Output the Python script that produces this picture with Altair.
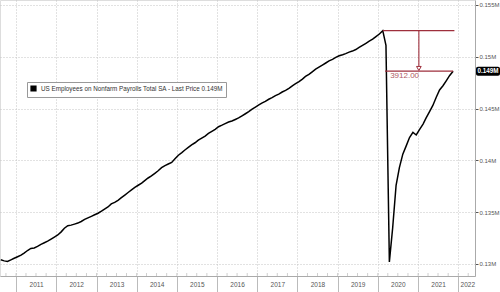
import altair as alt
import pandas as pd

# Monthly US nonfarm payrolls (thousands), Aug 2010 .. Nov 2021
v2010 = [130400, 130300, 130250, 130400, 130550]
v2011 = [130700, 130850, 131050, 131300, 131500, 131550, 131700, 131900, 132050, 132200, 132400, 132600]
v2012 = [132800, 133100, 133450, 133700, 133750, 133850, 133950, 134100, 134300, 134450, 134600, 134750]
v2013 = [134900, 135100, 135300, 135500, 135800, 135950, 136150, 136400, 136650, 136900, 137150, 137400]
v2014 = [137600, 137800, 138050, 138300, 138500, 138750, 139000, 139300, 139500, 139650, 139800, 140150]
v2015 = [140500, 140750, 141000, 141250, 141500, 141700, 141950, 142150, 142350, 142600, 142800, 143000]
v2016 = [143250, 143400, 143550, 143700, 143800, 143950, 144100, 144300, 144500, 144700, 144950, 145150]
v2017 = [145350, 145550, 145700, 145900, 146050, 146250, 146400, 146600, 146750, 146950, 147200, 147400]
v2018 = [147600, 147850, 148100, 148300, 148550, 148800, 149000, 149200, 149400, 149600, 149750, 149950]
v2019 = [150100, 150200, 150300, 150450, 150550, 150700, 150900, 151100, 151300, 151500, 151700, 151950]
v2020 = [152200, 152523, 151100, 130200, 133500, 137600, 139300, 140600, 141400, 142200, 142700, 142450]
v2021 = [143000, 143500, 144100, 144700, 145300, 146100, 146800, 147200, 147700, 148200, 148611]

values = v2010 + v2011 + v2012 + v2013 + v2014 + v2015 + v2016 + v2017 + v2018 + v2019 + v2020 + v2021
dates = pd.date_range("2010-08-01", "2021-11-01", freq="MS") + pd.Timedelta(days=14)

series_name = "US Employees on Nonfarm Payrolls Total SA - Last Price 0.149M"
y_ticks = [130000, 132500, 135000, 137500, 140000, 142500, 145000, 147500, 150000, 152500, 155000]
year_ticks = [f"{y}-01-01" for y in range(2011, 2023)]
quarter_ticks = [d.strftime("%Y-%m-%d") for d in pd.date_range("2010-10-01", "2022-04-01", freq="QS")]

df = pd.DataFrame({"date": dates, "value": values, "series": series_name})

peak_idx = values.index(max(values))
peak = values[peak_idx]
last = values[-1]
diff_text = f"{peak - last:.2f}"

W, H = 475, 276
RED = "#9e2f3c"
FONT = "Liberation Sans"

x_scale = alt.Scale(domain=["2010-08-08", "2022-06-02"])
y_scale = alt.Scale(domain=[128840, 155480], nice=False, zero=False)

x_axis = alt.Axis(
    values=year_ticks, format="%Y", tickSize=16, tickColor="#bbbbbb",
    labelOffset={"condition": {"test": "year(datum.value) == 2022", "value": 9}, "value": 20},
    labelPadding=-8, labelBaseline="middle", labelFontSize=6.5, labelColor="#555555",
    labelFont=FONT, labelFlush=False, labelOverlap=False,
    domainColor="#aaaaaa", grid=True, gridDash=[1, 2], gridColor="#c4c4c4", title=None,
)
y_axis = alt.Axis(
    orient="right", values=y_ticks,
    labelExpr="datum.value % 5000 == 0 ? format(datum.value / 1000000, '.3~f') + 'M' : ''",
    tickSize=3, tickColor="#555555", labelPadding=1, labelFontSize=6, labelColor="#555555",
    labelFont=FONT, labelFlush=False, labelOverlap=False, domainColor="#aaaaaa",
    grid=True, gridDash=[1, 2], gridColor="#c4c4c4",
    gridOpacity={"condition": {"test": "datum.value % 5000 != 0", "value": 0}, "value": 1},
    title=None,
)

line = alt.Chart(df).mark_line(strokeWidth=1.5, clip=True).encode(
    x=alt.X("date:T", scale=x_scale, axis=x_axis),
    y=alt.Y("value:Q", scale=y_scale, axis=y_axis),
    color=alt.Color(
        "series:N", scale=alt.Scale(range=["black"]),
        legend=alt.Legend(
            title=None, orient="none", legendX=27, legendY=82, symbolType="square",
            symbolFillColor="black", symbolStrokeColor="black", symbolSize=22,
            labelFontSize=6.3, labelColor="#333333", labelFont=FONT, labelLimit=400,
            strokeColor="#999999", fillColor="white", padding=3,
        ),
    ),
)

qdf = pd.DataFrame({"date": pd.to_datetime(quarter_ticks)})
qticks = alt.Chart(qdf).mark_tick(orient="vertical", size=3, thickness=0.8, color="#aaaaaa").encode(
    x=alt.X("date:T", scale=x_scale), y=alt.value(H - 1.5)
)

ann_lines = pd.DataFrame({
    "x": [dates[peak_idx], pd.Timestamp("2020-03-07")],
    "x2": [pd.Timestamp("2021-11-27"), dates[-1]],
    "y": [peak, last],
})
hrules = alt.Chart(ann_lines).mark_rule(color=RED, strokeWidth=1.3).encode(
    x="x:T", x2="x2:T", y="y:Q"
)

arrow_x = pd.Timestamp("2021-01-08")
vrule = alt.Chart(pd.DataFrame({"x": [arrow_x], "y": [peak], "y2": [149050]})).mark_rule(
    color=RED, strokeWidth=1.1
).encode(x="x:T", y="y:Q", y2="y2:Q")
head = alt.Chart(pd.DataFrame({"x": [arrow_x], "y": [148870]})).mark_point(
    shape="triangle-down", size=22, filled=True, fill="white", stroke=RED, strokeWidth=1, opacity=1
).encode(x="x:T", y="y:Q")
label = alt.Chart(pd.DataFrame({"x": [pd.Timestamp("2020-04-22")], "y": [148150], "t": [diff_text]})).mark_text(
    align="left", baseline="middle", fontSize=8, color="#b05a64", font=FONT
).encode(x="x:T", y="y:Q", text="t:N")

last_df = pd.DataFrame({"y": [last], "t": [format(last / 1e6, ".3f") + "M"]})
last_box = alt.Chart(last_df).mark_rect(color="black", height=9, cornerRadius=2, clip=False).encode(
    x=alt.value(W + 1), x2=alt.value(W + 25), y="y:Q"
)
last_txt = alt.Chart(last_df).mark_text(
    color="white", fontSize=6.3, fontWeight="bold", font=FONT, baseline="middle", align="center", clip=False
).encode(x=alt.value(W + 13), y="y:Q", text="t:N")

chart = alt.layer(line, qticks, hrules, vrule, head, label, last_box, last_txt).properties(
    width=W, height=H,
    autosize=alt.AutoSizeParams(type="none"),
    padding={"left": 0, "top": 0, "right": 25, "bottom": 16},
).configure_view(stroke=None).configure(background="white")

chart.save("out.html", embed_options={"renderer": "svg", "actions": False})
